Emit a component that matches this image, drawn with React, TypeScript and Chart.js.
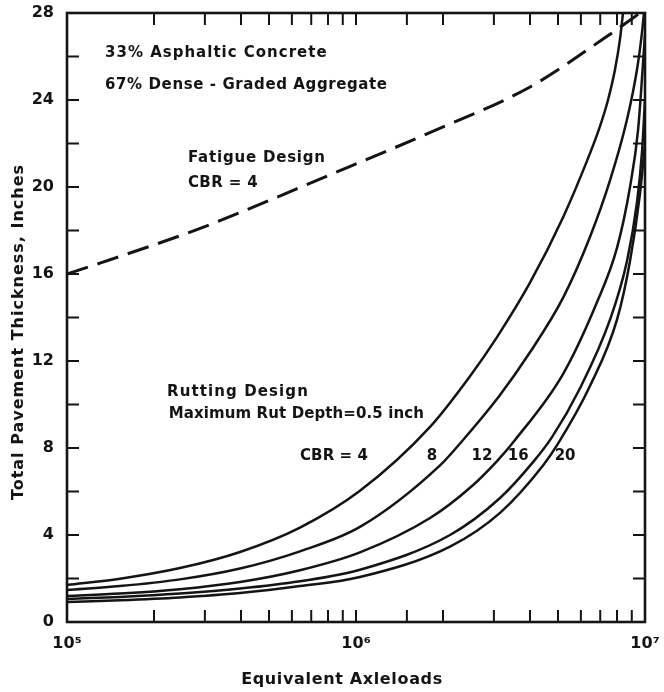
import React, { useEffect, useRef } from 'react';
import { Chart, registerables } from 'chart.js';

Chart.register(...registerables);

const FONT = '"DejaVu Sans", "Liberation Sans", sans-serif';
const INK = '#141414';

// Fatigue design (dashed), CBR = 4
const fatigueX = [1e5, 1.3e5, 2.89e5, 8.26e5, 1.8e6, 4.0e6, 7.16e6, 9.61e6];
const fatigueY = [16.0, 16.5, 18.1, 20.6, 22.5, 24.6, 26.8, 28];

// Rutting design curves (maximum rut depth 0.5 inch)
const cbr4X = [1e5, 1.526e5, 2.46e5, 3.97e5, 6.4e5, 1.032e6, 1.804e6, 2.48e6, 3.076e6, 4.0e6, 5.204e6, 6.3e6, 6.99e6, 7.447e6, 7.875e6, 8.194e6, 8.393e6];
const cbr4Y = [1.7, 1.99, 2.48, 3.22, 4.34, 6.03, 8.97, 11.3, 13.1, 15.6, 18.6, 21.2, 22.8, 24.0, 25.4, 26.8, 28];

const cbr8X = [1e5, 1.526e5, 2.46e5, 3.97e5, 6.4e5, 1.032e6, 1.953e6, 2.346e6, 3.15e6, 4.0e6, 5.204e6, 6.45e6, 7.567e6, 8.664e6, 9.383e6, 9.763e6, 9.92e6];
const cbr8Y = [1.47, 1.65, 1.96, 2.46, 3.25, 4.37, 7.2, 8.37, 10.44, 12.4, 14.9, 17.7, 20.3, 23.1, 25.4, 27.1, 28];

const cbr12X = [1e5, 1.526e5, 2.46e5, 3.97e5, 6.4e5, 1.032e6, 1.804e6, 2.48e6, 3.076e6, 3.55e6, 5.204e6, 6.82e6, 8.0e6, 8.874e6, 9.459e6, 1e7];
const cbr12Y = [1.2, 1.31, 1.51, 1.84, 2.38, 3.2, 4.78, 6.17, 7.4, 8.37, 11.4, 14.7, 17.2, 20.0, 22.6, 27];

const cbr16X = [1e5, 1.526e5, 2.46e5, 3.97e5, 6.4e5, 1.032e6, 2.115e6, 3.15e6, 4.097e6, 4.767e6, 5.958e6, 7.567e6, 8.664e6, 9.383e6, 9.763e6, 1e7];
const cbr16Y = [1.06, 1.155, 1.31, 1.535, 1.87, 2.4, 4.0, 5.7, 7.35, 8.5, 10.75, 13.9, 16.6, 19.3, 21.6, 24];

const cbr20X = [1e5, 1.526e5, 2.46e5, 3.97e5, 6.4e5, 1.032e6, 2.115e6, 3.15e6, 4.437e6, 5.0e6, 6.45e6, 8.0e6, 8.874e6, 9.61e6, 1e7];
const cbr20Y = [0.92, 1.0, 1.13, 1.33, 1.65, 2.07, 3.47, 5.02, 7.2, 8.2, 10.85, 13.9, 16.6, 19.7, 22];

// Axis ranges / ticks
const xMin = 1e5;
const xMax = 1e7;
const yMin = 0;
const yMax = 28;
const yStep = 2;
const yLabelEvery = 4;
const superscripts: Record<number, string> = { 5: '⁵', 6: '⁶', 7: '⁷' };

// Annotations (text, anchored in data coordinates)
const noteTexts = [
  '33% Asphaltic Concrete',
  '67% Dense - Graded Aggregate',
  'Fatigue Design',
  'CBR = 4',
  'Rutting Design',
  'Maximum Rut Depth=0.5 inch',
  'CBR = 4',
  '8',
  '12',
  '16',
  '20',
];
const noteX = [1.354e5, 1.354e5, 2.62e5, 2.62e5, 2.22e5, 2.25e5, 6.4e5, 1.83e6, 2.73e6, 3.64e6, 5.29e6];
const noteY = [26.16, 24.69, 21.33, 20.18, 10.57, 9.56, 7.61, 7.61, 7.61, 7.61, 7.61];
const noteAlign = ['left', 'left', 'left', 'left', 'left', 'left', 'left', 'center', 'center', 'center', 'center'];
const noteSpacing = [1.0, 0.6, 0.8, 0.4, 1.1, 0.1, 0.1, 0, 0, 0, 0];

const xTitle = 'Equivalent Axleloads';
const yTitle = 'Total Pavement Thickness, Inches';

const toPoints = (xs: number[], ys: number[]) => xs.map((x, i) => ({ x, y: ys[i] }));

const TICK_LEN = 12;

const framePlugin = {
  id: 'frameTicksNotes',
  afterDraw(chart: any) {
    const { ctx, chartArea: a, scales } = chart;
    const xs = scales.x;
    const ys = scales.y;
    ctx.save();
    ctx.strokeStyle = INK;
    ctx.lineWidth = 2;
    ctx.beginPath();
    for (const t of xs.ticks) {
      if (t.value <= xMin * 1.0001 || t.value >= xMax * 0.9999) continue;
      const px = xs.getPixelForValue(t.value);
      ctx.moveTo(px, a.bottom);
      ctx.lineTo(px, a.bottom - TICK_LEN);
      ctx.moveTo(px, a.top);
      ctx.lineTo(px, a.top + TICK_LEN);
    }
    for (const t of ys.ticks) {
      if (t.value <= yMin || t.value >= yMax) continue;
      const py = ys.getPixelForValue(t.value);
      ctx.moveTo(a.left, py);
      ctx.lineTo(a.left + TICK_LEN, py);
      ctx.moveTo(a.right, py);
      ctx.lineTo(a.right - TICK_LEN, py);
    }
    ctx.stroke();
    ctx.lineWidth = 2.6;
    ctx.strokeRect(a.left, a.top, a.right - a.left, a.bottom - a.top);

    // annotations
    ctx.fillStyle = INK;
    ctx.textBaseline = 'middle';
    noteTexts.forEach((txt, i) => {
      ctx.font = `bold 15px ${FONT}`;
      ctx.letterSpacing = `${noteSpacing[i]}px`;
      ctx.textAlign = noteAlign[i];
      ctx.fillText(txt, xs.getPixelForValue(noteX[i]), ys.getPixelForValue(noteY[i]));
    });

    // axis titles
    ctx.font = `bold 16px ${FONT}`;
    ctx.textAlign = 'center';
    ctx.letterSpacing = '0.65px';
    ctx.fillText(xTitle, 342, 680);
    ctx.save();
    ctx.translate(19, 332);
    ctx.rotate(-Math.PI / 2);
    ctx.letterSpacing = '1px';
    ctx.fillText(yTitle, 0, 0);
    ctx.restore();
    ctx.letterSpacing = '0px';
    ctx.restore();
  },
};

const lineStyle = {
  borderColor: INK,
  borderWidth: 2.5,
  pointRadius: 0,
  fill: false,
  cubicInterpolationMode: 'monotone' as const,
};

const zeroPadding = (s: any) => {
  s.paddingTop = 0;
  s.paddingBottom = 0;
  s.paddingLeft = 0;
  s.paddingRight = 0;
};

export default function App() {
  const ref = useRef<HTMLCanvasElement | null>(null);

  useEffect(() => {
    if (!ref.current) return;
    const chart = new Chart(ref.current, {
      type: 'line',
      data: {
        datasets: [
          { label: 'Fatigue CBR 4', data: toPoints(fatigueX, fatigueY), ...lineStyle, borderWidth: 3, borderDash: [22, 10] },
          { label: 'CBR 4', data: toPoints(cbr4X, cbr4Y), ...lineStyle },
          { label: 'CBR 8', data: toPoints(cbr8X, cbr8Y), ...lineStyle },
          { label: 'CBR 12', data: toPoints(cbr12X, cbr12Y), ...lineStyle },
          { label: 'CBR 16', data: toPoints(cbr16X, cbr16Y), ...lineStyle },
          { label: 'CBR 20', data: toPoints(cbr20X, cbr20Y), ...lineStyle },
        ],
      },
      options: {
        animation: false,
        responsive: true,
        maintainAspectRatio: false,
        layout: { padding: { top: 13, right: 19, left: 0, bottom: 0 } },
        plugins: { legend: { display: false }, tooltip: { enabled: false } },
        scales: {
          x: {
            type: 'logarithmic',
            min: xMin,
            max: xMax,
            grid: { display: false, drawTicks: false },
            border: { display: false },
            title: { display: false },
            afterFit: (s: any) => { s.height = 70; zeroPadding(s); },
            ticks: {
              autoSkip: false,
              maxRotation: 0,
              padding: 12,
              color: INK,
              font: { family: FONT, size: 16, weight: 'bold' },
              callback: (v: any) => {
                const e = Math.log10(Number(v));
                const r = Math.round(e);
                return Math.abs(e - r) < 1e-6 && superscripts[r] ? '10' + superscripts[r] : '';
              },
            },
          },
          y: {
            type: 'linear',
            min: yMin,
            max: yMax,
            grid: { display: false, drawTicks: false },
            border: { display: false },
            title: { display: false },
            afterFit: (s: any) => { s.width = 67; zeroPadding(s); },
            ticks: {
              stepSize: yStep,
              autoSkip: false,
              padding: 13,
              color: INK,
              font: { family: FONT, size: 16, weight: 'bold' },
              callback: (v: any) => (Number(v) % yLabelEvery === 0 ? String(v) : ''),
            },
          },
        },
      },
      plugins: [framePlugin],
    } as any);
    return () => chart.destroy();
  }, []);

  return (
    <div style={{ position: 'fixed', left: 0, top: 0, width: 664, height: 692, background: '#fff' }}>
      <canvas ref={ref} />
    </div>
  );
}
